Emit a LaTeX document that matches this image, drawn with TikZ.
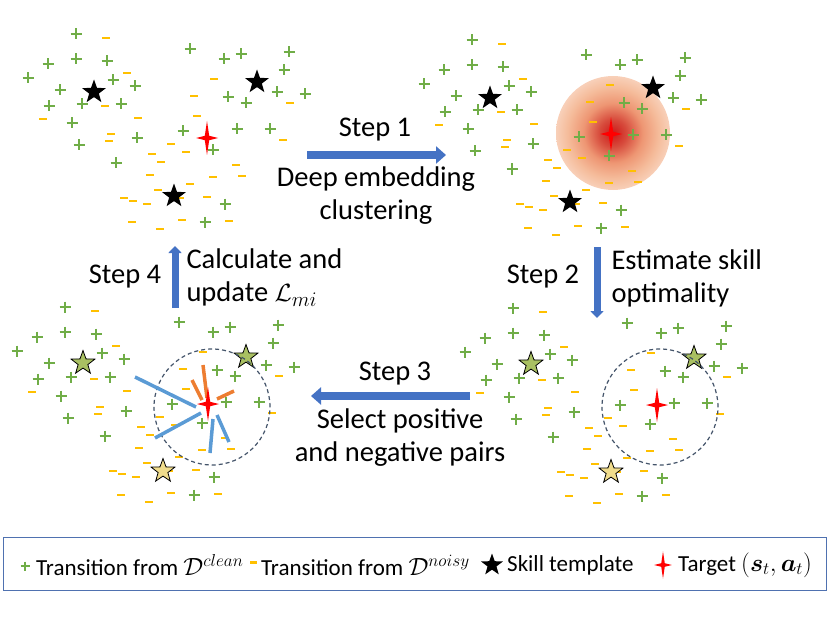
\documentclass[tikz,border=0pt]{standalone}
\usepackage{amsmath}
\usepackage{fontspec}
\setmainfont{Carlito}
\usetikzlibrary{arrows.meta, shapes.geometric, positioning}
\definecolor{cleangreen}{HTML}{70AD47}
\definecolor{noisygold}{HTML}{FFC000}
\definecolor{stepblue}{HTML}{4472C4}
\definecolor{pullblue}{HTML}{5B9BD5}
\definecolor{pushorange}{HTML}{ED7D31}
\definecolor{ringslate}{HTML}{44546A}
\definecolor{templgreen}{HTML}{A9C062}
\definecolor{templyellow}{HTML}{F0DC8C}
\definecolor{legendblue}{HTML}{4F71B0}
\definecolor{glowA}{RGB}{205,25,25}
\definecolor{glowB}{RGB}{215,75,60}
\definecolor{glowC}{RGB}{238,150,115}
\definecolor{glowD}{RGB}{245,188,155}
\definecolor{glowE}{RGB}{248,208,185}
\pgfdeclareradialshading{skillglow}{\pgfpoint{0bp}{0bp}}{color(0bp)=(glowA); color(6bp)=(glowB); color(13bp)=(glowC); color(20bp)=(glowD); color(25bp)=(glowE); color(50bp)=(glowE)}
\tikzset{targetmark/.pic={\fill[red] (0,-17) -- (2.2,-2.2) -- (11,0) -- (2.2,2.2) -- (0,17) -- (-2.2,2.2) -- (-11,0) -- (-2.2,-2.2) -- cycle;}}
% one cloud of transitions, drawn four times
\def\pluslist{76/34,48/64,76/59,107/61,28/78,113/80,135/86,60/90,49/106,82/104,121/104,72/123,137/138,79/145,116/163,190/49,224/59,241/54,228/97,246/103,183/131,237/129,270/129,213/150,225/204,205/222,277/92,289/52,284/70,305/94}
\def\minuslist{106/38,127/73,105/106,43/119,138/118,111/134,109/141,214/79,194/96,197/116,171/144,152/154,186/152,161/162,236/165,242/176,150/175,213/177,190/184,158/190,124/198,133/201,147/204,180/198,207/197,182/220,229/221,132/222,160/229,290/103,283/140}
\newcommand{\cloudpoints}{%
  \foreach \x/\y in \pluslist
    \draw[plusmark] (\x-5.5,\y) -- (\x+5.5,\y) (\x,\y-5.5) -- (\x,\y+5.5);
  \foreach \x/\y in \minuslist
    \fill[minusmark] (\x-3.6,\y-1.4) rectangle (\x+3.6,\y+1.4);
}

\begin{document}
\begin{tikzpicture}[x=1pt,y=-1pt,
    every node/.style={font=\fontsize{28.5}{33}\selectfont},
    plusmark/.style={cleangreen, line width=2.8pt},
    minusmark/.style={noisygold},
    skillstar/.style={star, star points=5, star point ratio=2.45, minimum size=25pt, inner sep=0pt, fill=black},
    steparrow/.style={stepblue, line width=8pt, -{Triangle[width=17pt,length=10pt]}},
    sidearrow/.style={stepblue, line width=7pt, -{Triangle[width=13pt,length=7pt]}},
    ring/.style={ringslate, line width=1.2pt, dash pattern=on 4pt off 3pt},
    legendtext/.style={anchor=west, inner sep=0pt, font=\fontsize{23}{27}\selectfont}]
  \useasboundingbox (0,0) rectangle (830,623);
  % top left: raw data
  \cloudpoints
  \foreach \x/\y [count=\i] in {94/92,257/82,174/196}
    \node[skillstar] (tl\i) at (\x,\y) {};
  \pic at (207,138) {targetmark};
  % top right: clustering
  \shade[shading=skillglow] (613,133) circle[radius=57pt];
  \begin{scope}[shift={(396,6)}]
    \cloudpoints
    \foreach \x/\y [count=\i] in {94/92,257/82,174/196}
      \node[skillstar] (tr\i) at (\x,\y) {};
  \end{scope}
  \pic at (611,134) {targetmark};
  % bottom right: skill optimality
  \begin{scope}[shift={(437,274)}]
    \cloudpoints
    \foreach \x/\y/\c [count=\i] in {94/90/templgreen,257/84/templgreen,174/198/templyellow}
      \node[skillstar, fill=\c, draw=black, line width=0.8pt] (br\i) at (\x,\y) {};
  \end{scope}
  \draw[ring] (660,407) circle[radius=58pt];
  \pic at (657,405) {targetmark};
  % bottom left: pairs
  \begin{scope}[shift={(-11,273)}]
    \cloudpoints
    \foreach \x/\y/\c [count=\i] in {94/90/templgreen,257/84/templgreen,174/198/templyellow}
      \node[skillstar, fill=\c, draw=black, line width=0.8pt] (bl\i) at (\x,\y) {};
  \end{scope}
  \draw[ring] (212,407) circle[radius=58pt];
  \foreach \a/\b/\c/\d in {196/407/135/377,201/413/155/438,213/419/210/453,217/415/229/442}
    \draw[pullblue, line width=3.5pt] (\a,\b) -- (\c,\d);
  \foreach \a/\b/\c/\d in {202/400/192/380,207/398/203/365,217/399/234/391}
    \draw[pushorange, line width=3.5pt] (\a,\b) -- (\c,\d);
  \pic at (208,404) {targetmark};
  % steps
  \coordinate (s1a) at (307,155);
  \coordinate (s1b) at (446,155);
  \coordinate (s2a) at (597,247);
  \coordinate (s2b) at (597,318);
  \coordinate (s3a) at (470,396);
  \coordinate (s3b) at (311,396);
  \coordinate (s4a) at (175,308);
  \coordinate (s4b) at (175,246);
  \draw[steparrow] (s1a) -- (s1b);
  \draw[sidearrow] (s2a) -- (s2b);
  \draw[steparrow] (s3a) -- (s3b);
  \draw[sidearrow] (s4a) -- (s4b);
  \node (step1) at (375,130) {Step 1};
  \node[align=center] (emb) at (376,196) {Deep embedding\\clustering};
  \node (step2) at (543,277) {Step 2};
  \node[anchor=west, align=left] (opt) at (608,278) {Estimate skill\\optimality};
  \node (step3) at (395,374) {Step 3};
  \node[align=center] (pairs) at (400,438) {Select positive\\and negative pairs};
  \node (step4) at (125,277) {Step 4};
  \node[anchor=west, align=left] (upd) at (183,278) {Calculate and\\update $\mathcal{L}_{mi}$};
  % legend
  \draw[legendblue, line width=1pt] (3,537) rectangle (826,590);
  \draw[cleangreen, line width=2.2pt] (20.5,566) -- (29.5,566) (25,561.5) -- (25,570.5);
  \node[legendtext] (lg1) at (36,565) {Transition from $\mathcal{D}^{clean}$};
  \fill[noisygold] (250,560.5) rectangle (257,563.5);
  \node[legendtext] (lg2) at (261,565) {Transition from $\mathcal{D}^{noisy}$};
  \node[skillstar, minimum size=23pt] (lg3) at (492,565) {};
  \node[legendtext] (lg4) at (507,565) {Skill template};
  \pic[scale=0.8] at (663,565) {targetmark};
  \node[legendtext] (lg5) at (678,565) {Target $(\boldsymbol{s}_t,\boldsymbol{a}_t)$};
\end{tikzpicture}
\end{document}
